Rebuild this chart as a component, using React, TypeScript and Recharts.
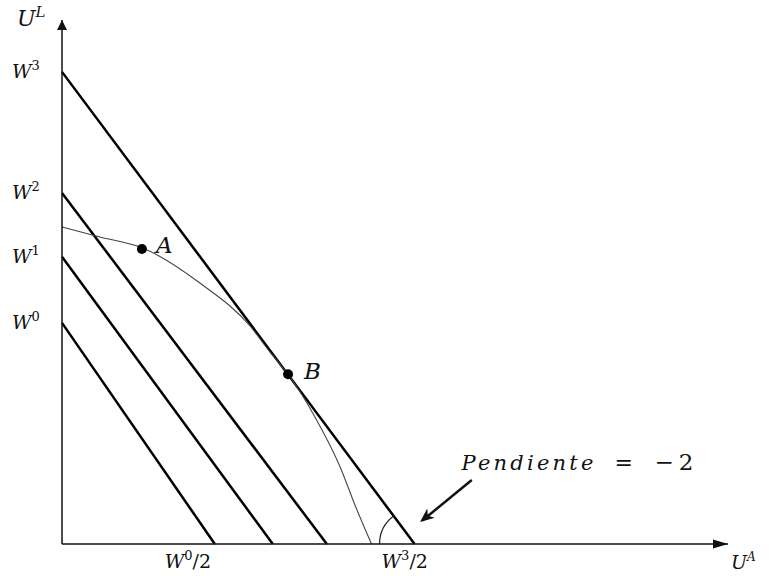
import React from 'react';
import { LineChart, Line, XAxis, YAxis, ReferenceDot, ReferenceLine } from 'recharts';

// Welfare levels (y-intercepts) and their x-intercepts (W/2)
const W_LEVELS = [4.22, 5.48, 6.7, 9.01];
const W_X_INTERCEPTS = [1.95, 2.69, 3.38, 4.5];
const W_SUPERS = ['0', '1', '2', '3'];

// Utility possibility frontier
const CURVE_X = [0, 0.485, 1.03, 1.76, 2.4, 2.655, 2.885, 3.04, 3.23, 3.55, 3.74, 3.95];
const CURVE_Y = [6.05, 5.86, 5.65, 4.98, 4.16, 3.66, 3.24, 2.9, 2.42, 1.47, 0.74, 0];

// Marked points
const POINT_NAMES = ['A', 'B'];
const POINT_X = [1.02, 2.885];
const POINT_Y = [5.63, 3.24];

// X-axis tick labels
const X_TICK_VALUES = [1.95, 4.5];
const X_TICK_MAIN = ['W', 'W'];
const X_TICK_SUPERS = ['0', '3'];

const SLOPE_WORD = 'Pendiente';
const SLOPE_VALUE = '−2';

const X_MAX = 8.5;
const Y_MAX = 10;

const FONT = 'DejaVu Serif';

const curveData = CURVE_X.map((x, i) => ({ x, y: CURVE_Y[i] }));
const wLines = W_LEVELS.map((w, i) => [
  { x: 0, y: w },
  { x: W_X_INTERCEPTS[i], y: 0 },
]);

const YTick = (props: any) => {
  const { y, payload } = props;
  const idx = W_LEVELS.indexOf(payload.value);
  return (
    <text x={12} y={y + 6} fontFamily={FONT} fontStyle="italic" fontSize={19} fill="#111">
      W
      <tspan fontSize={13} fontStyle="normal" dy={-8}>{W_SUPERS[idx]}</tspan>
    </text>
  );
};

const XTick = (props: any) => {
  const { x, payload } = props;
  const idx = X_TICK_VALUES.indexOf(payload.value);
  const offs = [-50, -33];
  return (
    <text x={x + offs[idx]} y={568} fontFamily={FONT} fontStyle="italic" fontSize={19} fill="#111">
      {X_TICK_MAIN[idx]}
      <tspan fontSize={13} fontStyle="normal" dy={-8}>{X_TICK_SUPERS[idx]}</tspan>
      <tspan fontStyle="normal" dy={8}>/2</tspan>
    </text>
  );
};

const UpArrow = (props: any) => {
  const { cx, cy } = props;
  return (
    <g>
      <path d={`M ${cx} ${cy} L ${cx - 5} ${cy + 10} L ${cx + 5} ${cy + 10} Z`} fill="#111" />
      <text x={17} y={26} fontFamily={FONT} fontStyle="italic" fontSize={22} fill="#111">
        U
        <tspan fontSize={15} dy={-9}>L</tspan>
      </text>
    </g>
  );
};

const RightArrow = (props: any) => {
  const { cx, cy } = props;
  return (
    <g>
      <path d={`M ${cx} ${cy} L ${cx - 15} ${cy - 4.5} L ${cx - 15} ${cy + 4.5} Z`} fill="#111" />
      <text x={731} y={569} fontFamily={FONT} fontStyle="italic" fontSize={19} fill="#111">
        U
        <tspan fontSize={12} dy={-8}>A</tspan>
      </text>
    </g>
  );
};

const PointShape = (name: string, dx: number, dy: number) => (props: any) => {
  const { cx, cy } = props;
  return (
    <g>
      <circle cx={cx} cy={cy} r={5} fill="#000" />
      <text x={cx + dx} y={cy + dy} fontFamily={FONT} fontStyle="italic" fontSize={23} fill="#111" dominantBaseline="central">
        {name}
      </text>
    </g>
  );
};

const AngleArc = (props: any) => {
  const { cx, cy } = props;
  return (
    <path d={`M ${cx - 35} ${cy} A 35 35 0 0 1 ${cx - 21} ${cy - 28}`} fill="none" stroke="#222" strokeWidth={1.2} />
  );
};

const ArrowHead = (props: any) => {
  const { cx, cy } = props;
  const ang = (Math.atan2(42, -52) * 180) / Math.PI;
  return (
    <g transform={`translate(${cx},${cy}) rotate(${ang})`}>
      <path d="M 0 0 L -14 -6 L -10 0 L -14 6 Z" fill="#111" />
    </g>
  );
};

const SlopeText = (props: any) => {
  const { cx, cy } = props;
  return (
    <text y={cy} fontFamily={FONT} fontSize={21} fill="#111">
      <tspan x={cx} fontStyle="italic" letterSpacing={3.2}>{SLOPE_WORD}</tspan>
      <tspan x={cx + 153} fontSize={22}>=</tspan>
      <tspan x={cx + 193} fontSize={23} letterSpacing={5}>{SLOPE_VALUE}</tspan>
    </text>
  );
};

export default function App() {
  return (
    <div style={{ position: 'absolute', left: 0, top: 0, background: '#fff' }}>
      <LineChart width={769} height={576} margin={{ top: 20, right: 41, bottom: 0, left: 0 }}>
        <XAxis
          type="number"
          dataKey="x"
          domain={[0, X_MAX]}
          ticks={X_TICK_VALUES}
          tick={<XTick />}
          tickLine={false}
          height={32}
          axisLine={{ stroke: '#111', strokeWidth: 1.5 }}
        />
        <YAxis
          type="number"
          dataKey="y"
          domain={[0, Y_MAX]}
          ticks={W_LEVELS}
          tick={<YTick />}
          tickLine={false}
          width={62}
          axisLine={{ stroke: '#111', strokeWidth: 1.5 }}
        />
        {wLines.map((d, i) => (
          <Line
            key={i}
            data={d}
            dataKey="y"
            type="linear"
            stroke="#000"
            strokeWidth={2.5}
            dot={false}
            isAnimationActive={false}
          />
        ))}
        <Line
          data={curveData}
          dataKey="y"
          type="monotone"
          stroke="#444"
          strokeWidth={1.1}
          dot={false}
          isAnimationActive={false}
        />
        <ReferenceLine
          segment={[{ x: 5.23, y: 1.22 }, { x: 4.6, y: 0.45 }]}
          stroke="#111"
          strokeWidth={2.5}
        />
        <ReferenceDot x={4.57} y={0.42} r={0} shape={<ArrowHead />} />
        <ReferenceDot x={5.1} y={1.41} r={0} shape={<SlopeText />} />
        <ReferenceDot x={W_X_INTERCEPTS[3]} y={0} r={0} shape={<AngleArc />} />
        {POINT_NAMES.map((n, i) => (
          <ReferenceDot
            key={n}
            x={POINT_X[i]}
            y={POINT_Y[i]}
            r={5}
            shape={PointShape(n, i === 0 ? 14 : 16, i === 0 ? -4 : -3)}
          />
        ))}
        <ReferenceDot x={0} y={Y_MAX} r={0} shape={<UpArrow />} />
        <ReferenceDot x={X_MAX} y={0} r={0} shape={<RightArrow />} />
      </LineChart>
    </div>
  );
}
